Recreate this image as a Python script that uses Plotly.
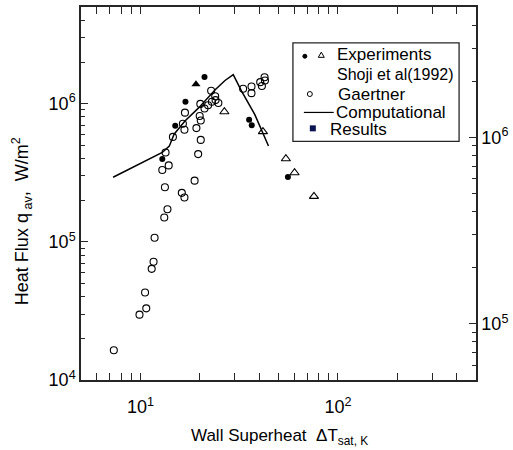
import math
import plotly.graph_objects as go

# Gaertner data (open circles): wall superheat [K], heat flux [W/m^2]
gaertner_dt = [7.33, 9.89, 10.7, 10.55, 11.4, 11.65, 11.79, 13.2, 13.7, 13.3,
               16.2, 16.7, 18.8, 16.8, 16.4, 16.7, 14.6, 13.4, 13.9, 12.9,
               20.1, 21.1, 22.0, 23.0, 23.9, 24.0, 24.8, 22.8, 19.95, 20.2,
               19.2, 20.2, 19.6, 33.1, 36.5, 36.5, 40.4, 42.5, 42.7, 41.2]
gaertner_q = [1.64e4, 2.97e4, 3.30e4, 4.30e4, 6.37e4, 7.18e4, 1.07e5, 1.50e5, 1.72e5, 2.48e5,
              2.26e5, 2.09e5, 2.77e5, 8.60e5, 7.14e5, 6.47e5, 5.74e5, 4.43e5, 3.57e5, 3.31e5,
              9.95e5, 9.22e5, 9.73e5, 1.03e6, 1.13e6, 1.06e6, 1.01e6, 1.24e6, 8.13e5, 7.55e5,
              6.65e5, 5.46e5, 4.31e5, 1.28e6, 1.33e6, 1.19e6, 1.43e6, 1.55e6, 1.47e6, 1.34e6]

# Shoji et al (1992) experiments: filled circles and open triangles
shoji_dot_dt = [21.1, 16.9, 15.0, 12.9, 35.5, 36.6, 55.8]
shoji_dot_q = [1.56e6, 1.03e6, 6.9e5, 3.97e5, 7.64e5, 6.96e5, 2.94e5]
shoji_tri_dt = [26.6, 41.7, 54.5, 60.3, 75.6]
shoji_tri_q = [8.73e5, 6.27e5, 3.99e5, 3.16e5, 2.13e5]
shoji_solid_tri_dt = [19.1]
shoji_solid_tri_q = [1.38e6]

# Computational results (solid curve)
comp_dt = [7.27, 9.15, 12.9, 14.0, 14.8, 16.8, 19.7, 23.9, 26.8, 29.5, 32.5, 37.9, 41.7, 44.5]
comp_q = [2.93e5, 3.45e5, 4.43e5, 4.92e5, 6.0e5, 7.48e5, 9.31e5, 1.26e6, 1.47e6, 1.62e6,
          1.23e6, 8.36e5, 6.0e5, 4.94e5]

# Axis ticks
x_major = [10, 100]
x_major_text = ["10<sup>1</sup>", "10<sup>2</sup>"]
x_minor = [6, 7, 8, 9] + [m * 10 for m in range(2, 10)] + [200, 300, 400]
y_major = [1e4, 1e5, 1e6]
y_major_text = ["10<sup>4</sup>", "10<sup>5</sup>", "10<sup>6</sup>"]
y_minor = [m * 1e4 for m in range(2, 10)] + [m * 1e5 for m in range(2, 10)] + [2e6, 3e6, 4e6]
y2_major = [1e5, 1e6]
y2_major_text = ["10<sup>5</sup>", "10<sup>6</sup>"]
y2_minor = [6e4, 7e4, 8e4, 9e4] + [m * 1e5 for m in range(2, 10)] + [2e6, 3e6, 4e6]

FONT = "Liberation Sans, Arial, sans-serif"
AXC = "#262626"

fig = go.Figure()
fig.add_trace(go.Scatter(x=comp_dt, y=comp_q, mode="lines",
                         line=dict(color="black", width=1.5), hoverinfo="skip"))
fig.add_trace(go.Scatter(x=gaertner_dt, y=gaertner_q, mode="markers",
                         marker=dict(symbol="circle-open", size=7, color="black",
                                     line=dict(width=1.1))))
fig.add_trace(go.Scatter(x=shoji_dot_dt, y=shoji_dot_q, mode="markers",
                         marker=dict(symbol="circle", size=6, color="black")))
fig.add_trace(go.Scatter(x=shoji_tri_dt, y=shoji_tri_q, mode="markers",
                         marker=dict(symbol="triangle-up-open", size=8, color="black",
                                     line=dict(width=1.1))))
fig.add_trace(go.Scatter(x=shoji_solid_tri_dt, y=shoji_solid_tri_q, mode="markers",
                         marker=dict(symbol="triangle-up", size=8, color="black")))
# keeps the right-hand axis drawn
fig.add_trace(go.Scatter(x=[None], y=[None], yaxis="y2", mode="markers", hoverinfo="skip"))

W, H = 513, 450
L, R, T, B = 81, 35, 5, 70
PW, PH = W - L - R, H - T - B


def px(xp):
    return (xp - L) / PW


def py(yp):
    return (H - B - yp) / PH


# Legend frame
fig.add_shape(type="rect", xref="paper", yref="paper",
              x0=px(294), x1=px(461), y0=py(140), y1=py(41),
              line=dict(color=AXC, width=1.3), fillcolor="white", layer="above")


def marker_shape(kind, cx, cy, size, fill, color="black"):
    if kind == "circle":
        fig.add_shape(type="circle", xref="paper", yref="paper",
                      xsizemode="pixel", ysizemode="pixel",
                      xanchor=px(cx), yanchor=py(cy),
                      x0=-size / 2, x1=size / 2, y0=-size / 2, y1=size / 2,
                      line=dict(color=color, width=1), fillcolor=fill, layer="above")
    elif kind == "square":
        fig.add_shape(type="rect", xref="paper", yref="paper",
                      xsizemode="pixel", ysizemode="pixel",
                      xanchor=px(cx), yanchor=py(cy),
                      x0=-size / 2, x1=size / 2, y0=-size / 2, y1=size / 2,
                      line=dict(color=color, width=0), fillcolor=fill, layer="above")
    elif kind == "triangle":
        h = size * 0.87
        path = "M{},{} L{},{} L{},{} Z".format(-size / 2, -h / 2, size / 2, -h / 2, 0, h / 2)
        fig.add_shape(type="path", xref="paper", yref="paper",
                      xsizemode="pixel", ysizemode="pixel",
                      xanchor=px(cx), yanchor=py(cy), path=path,
                      line=dict(color=color, width=1), fillcolor=fill, layer="above")


marker_shape("circle", 306, 54.5, 4, "black")
marker_shape("triangle", 322.5, 53, 6, "white")
marker_shape("circle", 311, 92.5, 5, "white")
marker_shape("square", 314, 127, 6, "#0b1450", "#0b1450")
fig.add_shape(type="line", xref="paper", yref="paper",
              x0=px(305), x1=px(335), y0=py(111), y1=py(111),
              line=dict(color="black", width=1.2), layer="above")

legend_items = [("Experiments", 336, 53, 17), ("Shoji et al(1992)", 336, 73, 16),
                ("Gaertner", 337, 93, 17), ("Computational", 335, 111, 17),
                ("Results", 329, 128, 17)]
for txt, xx, yy, fs in legend_items:
    fig.add_annotation(text=txt, xref="paper", yref="paper", x=px(xx), y=py(yy),
                       xanchor="left", yanchor="middle", showarrow=False,
                       font=dict(family=FONT, size=fs, color="black"))

# Axis titles
fig.add_annotation(text="Wall Superheat  \u0394T<sub>sat, K</sub>", xref="paper", yref="paper",
                   x=px(281), y=py(437), xanchor="center", yanchor="middle", showarrow=False,
                   font=dict(family=FONT, size=17, color="black"))
fig.add_annotation(text="Heat Flux q<sub> av</sub>,  W/m<sup>2</sup>", xref="paper", yref="paper",
                   x=px(22), y=py(220), xanchor="center", yanchor="middle", showarrow=False,
                   textangle=-90, font=dict(family=FONT, size=18, color="black"))

axis_common = dict(showgrid=False, zeroline=False, showline=True, linecolor=AXC, linewidth=1.5,
                   ticks="inside", tickcolor=AXC, tickwidth=1.2, ticklen=7,
                   tickfont=dict(family=FONT, size=18, color="black"))

fig.update_layout(
    width=W, height=H, autosize=False,
    margin=dict(l=L, r=R, t=T, b=B),
    paper_bgcolor="white", plot_bgcolor="white", showlegend=False,
    xaxis=dict(type="log", range=[math.log10(5), math.log10(500)], mirror="allticks",
               tickvals=x_major, ticktext=x_major_text, ticklabelstandoff=10,
               minor=dict(tickvals=x_minor, ticks="inside", ticklen=4, tickcolor=AXC, tickwidth=1.2),
               **axis_common),
    yaxis=dict(type="log", range=[4, math.log10(5e6)],
               tickvals=y_major, ticktext=y_major_text,
               minor=dict(tickvals=y_minor, ticks="inside", ticklen=4, tickcolor=AXC, tickwidth=1.2),
               **axis_common),
    yaxis2=dict(type="log", range=[math.log10(5e4), math.log10(5e6)], overlaying="y", side="right",
                tickvals=y2_major, ticktext=y2_major_text,
                minor=dict(tickvals=y2_minor, ticks="inside", ticklen=4, tickcolor=AXC, tickwidth=1.2),
                **axis_common),
)

fig.write_html("out.html")
